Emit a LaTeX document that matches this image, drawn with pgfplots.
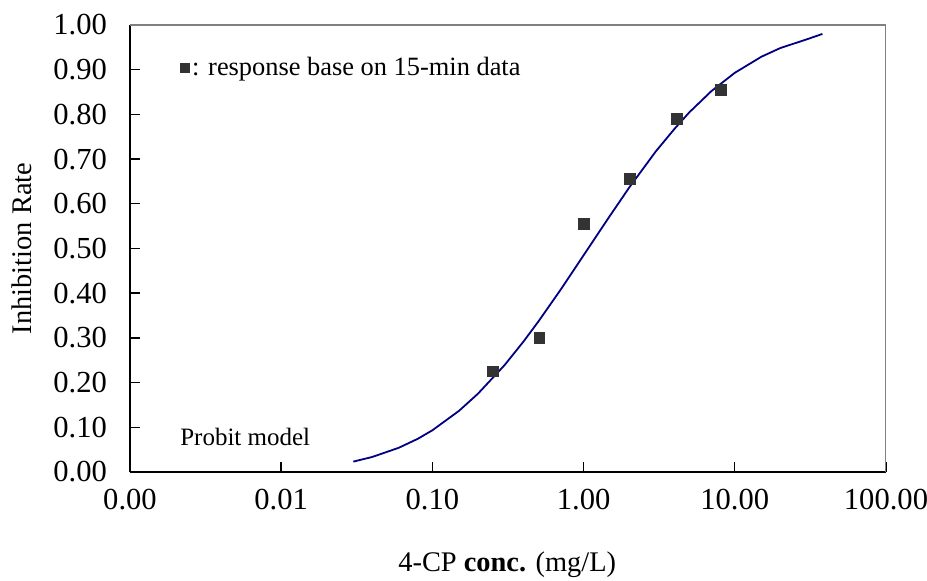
\documentclass[border=0pt]{standalone}
\usepackage{fontspec}
\setmainfont{Liberation Serif}
\usepackage{pgfplots}
\pgfplotsset{compat=1.18}
\definecolor{curve}{RGB}{0,0,128}
\definecolor{pts}{RGB}{51,51,51}
\begin{document}
\begin{tikzpicture}
\useasboundingbox (0,0) rectangle (463.5pt,290.5pt);
\begin{axis}[
  at={(65pt,54.5pt)}, anchor=south west,
  scale only axis, width=378pt, height=223.5pt,
  xmode=log, xmin=0.001, xmax=100, ymin=0, ymax=1,
  axis x line*=bottom, axis y line*=left,
  axis line style={-, line width=0.9pt, black},
  tick align=inside, major tick length=5pt,
  tick style={black, line width=0.7pt},
  xtick={0.001,0.01,0.1,1,10,100},
  xticklabels={0.00,0.01,0.10,1.00,10.00,100.00},
  xminorticks=false, yminorticks=false,
  ytick={0,0.1,0.2,0.3,0.4,0.5,0.6,0.7,0.8,0.9,1},
  yticklabels={0.00,0.10,0.20,0.30,0.40,0.50,0.60,0.70,0.80,0.90,1.00},
  ticklabel style={font=\fontsize{15.3}{18}\selectfont},
  xticklabel style={yshift=-5pt},
  yticklabel style={anchor=east, xshift=-8pt},
  xlabel={4-CP \textbf{conc.} (mg/L)},
  ylabel={Inhibition Rate},
  label style={font=\fontsize{14.2}{17}\selectfont},
  xlabel style={at={(axis description cs:0.499,-0.208)}, anchor=center},
  ylabel style={at={(axis description cs:-0.143,0.5)}, anchor=center, rotate=0},
  legend style={draw=none, fill=none, at={(0.066,0.904)}, anchor=west,
    font=\fontsize{13.2}{16}\selectfont, inner sep=0pt,
    legend cell align=left, /tikz/every odd column/.append style={inner xsep=0pt}},
  legend image code/.code={\draw[#1, mark size=2.2pt] plot coordinates {(0.1cm,0cm)};},
]
\addplot[only marks, mark=square*, mark size=2.7pt, color=pts] coordinates {
(0.25,0.225) (0.51,0.30) (1.0,0.555) (2.03,0.655) (4.15,0.79) (8.1,0.855)
};
\addlegendentry{\kern-0.5pt: response base on 15-min data}
\addplot[curve, line width=0.9pt, forget plot] coordinates {
(0.03,0.0232) (0.04,0.0336) (0.06,0.0542) (0.08,0.0742) (0.1,0.0933)
(0.15,0.1368) (0.2,0.175) (0.3,0.239) (0.4,0.2916) (0.5,0.3357)
(0.7,0.4063) (1.0,0.4847) (1.2,0.525) (1.5,0.574) (2,0.636) (3,0.717) (4,0.768)
(5,0.8045) (7,0.852) (10,0.893) (15,0.929) (20,0.9484) (30,0.968) (38,0.98)
};
\node[anchor=west, inner sep=0pt, font=\fontsize{12.5}{15}\selectfont] at (rel axis cs:0.066,0.078) {Probit model};
\draw[gray, line width=0.7pt] (rel axis cs:0,1) -- (rel axis cs:1,1) -- (rel axis cs:1,0);
\end{axis}
\end{tikzpicture}
\end{document}
